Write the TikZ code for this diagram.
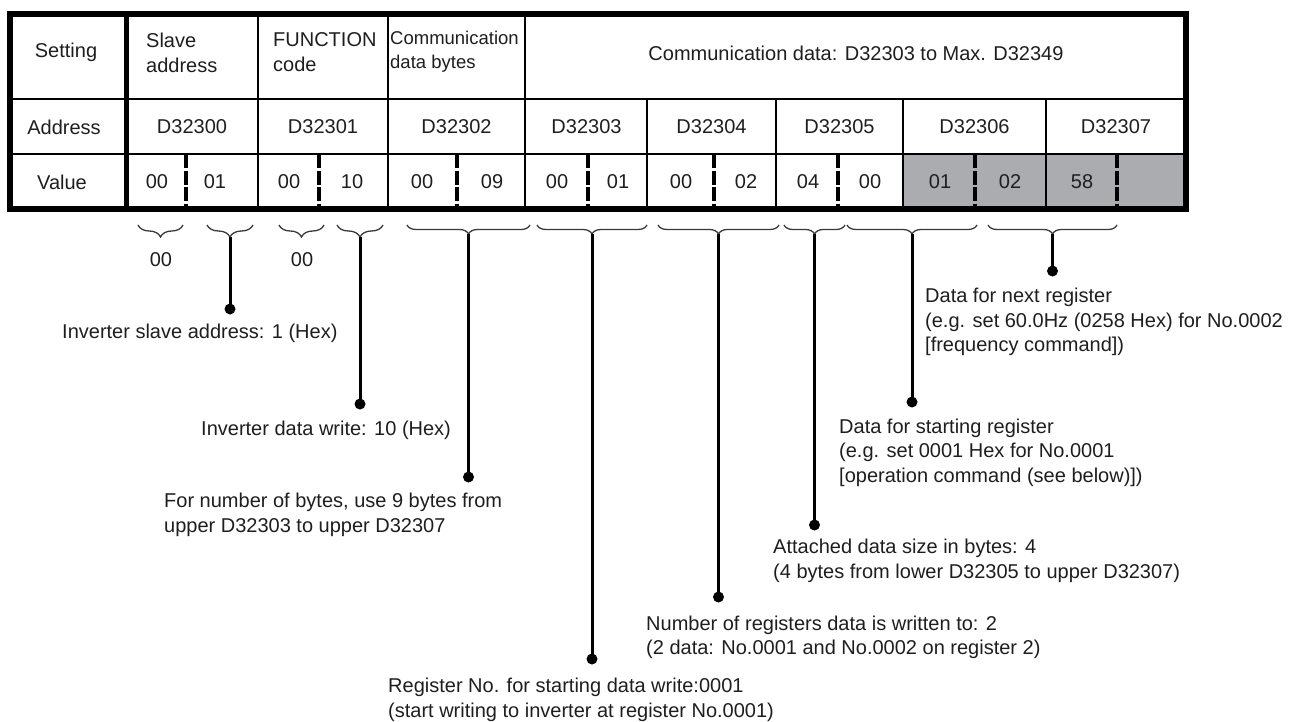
\documentclass[tikz,border=0pt]{standalone}
\usepackage{fontspec}
\setmainfont{Liberation Sans}
\usetikzlibrary{decorations.pathreplacing}
\definecolor{cellgrey}{HTML}{ABACB0}
\definecolor{inkc}{HTML}{1E1E1E}
\definecolor{bracec}{HTML}{3A3A3A}
\begin{document}
\begin{tikzpicture}[x=1pt,y=-1pt,
  txt/.style={inner sep=0pt, text=inkc, font=\fontsize{20}{25}\selectfont},
  hdr/.style={txt, align=left, anchor=west},
  lbl/.style={inner sep=0pt, text=inkc, align=left, anchor=west, font=\fontsize{20}{24.5}\selectfont},
  gridthin/.style={line width=1.6pt, draw=black},
  gridthick/.style={line width=5pt, draw=black},
  halfdiv/.style={line width=4pt, draw=black, dash pattern=on 14pt off 2.5pt},
  frame/.style={line width=6pt, draw=black},
  brc/.style={decorate, decoration={brace, mirror, amplitude=#1}, line width=1.3pt, draw=bracec},
  lead/.style={line width=3pt, draw=black},
  dot/.style={circle, fill=black, inner sep=0pt, minimum size=11pt},
]
\useasboundingbox (0,0) rectangle (1306,721);

% ---- table ----
\fill[cellgrey] (903,154) rectangle (1186,209);
\draw[gridthin] (9.5,99) -- (1186,99);
\draw[gridthin] (9.5,154) -- (1186,154);
\foreach \x in {258,388,525} \draw[gridthin] (\x,13.5) -- (\x,209);
\foreach \x in {647,776,903,1046} \draw[gridthin] (\x,99) -- (\x,209);
\draw[gridthick] (126,13.5) -- (126,209);
\foreach \x in {186,319,457,588,714,838,975,1117} \draw[halfdiv] (\x,154) -- (\x,209);
\draw[frame] (9.5,13.5) rectangle (1186,209);

% row 1
\node[txt] (hset) at (66,52) {Setting};
\node[hdr] (hslave) at (146,52.5) {Slave\\address};
\node[hdr] (hfunc) at (273,52.5) {FUNCTION\\code};
\node[hdr, font=\fontsize{18.5}{24}\selectfont] (hcomm) at (390,52) {Communication\\data bytes};
\node[txt] (hdata) at (856,53) {Communication data: D32303 to Max. D32349};

% row 2
\node[txt] (raddr) at (64,127) {Address};
\node[txt] (a0) at (192,127) {D32300};
\node[txt] (a1) at (323,127) {D32301};
\node[txt] (a2) at (456.5,127) {D32302};
\node[txt] (a3) at (586.5,127) {D32303};
\node[txt] (a4) at (711.5,127) {D32304};
\node[txt] (a5) at (839.5,127) {D32305};
\node[txt] (a6) at (974.5,127) {D32306};
\node[txt] (a7) at (1116,127) {D32307};

% row 3
\node[txt] (rval) at (62,182) {Value};
\node[txt] (v0h) at (157,182) {00};
\node[txt] (v0l) at (215,182) {01};
\node[txt] (v1h) at (289,182) {00};
\node[txt] (v1l) at (352,182) {10};
\node[txt] (v2h) at (422,182) {00};
\node[txt] (v2l) at (492,182) {09};
\node[txt] (v3h) at (557,182) {00};
\node[txt] (v3l) at (618,182) {01};
\node[txt] (v4h) at (681,182) {00};
\node[txt] (v4l) at (746,182) {02};
\node[txt] (v5h) at (808,182) {04};
\node[txt] (v5l) at (870,182) {00};
\node[txt] (v6h) at (940,182) {01};
\node[txt] (v6l) at (1010,182) {02};
\node[txt] (v7h) at (1082,182) {58};

% ---- braces ----
\draw[brc=12pt] (138,225) -- (183,225);
\draw[brc=12pt] (207,225) -- (253,225);
\draw[brc=12pt] (279,225) -- (324,225);
\draw[brc=12pt] (337,225) -- (383,225);
\draw[brc=9pt] (407,225) -- (530,225);
\draw[brc=9pt] (537,225) -- (647,225);
\draw[brc=9pt] (658,225) -- (779,225);
\draw[brc=9pt] (784,225) -- (845,225);
\draw[brc=9pt] (847,225) -- (977,225);
\draw[brc=9pt] (988,225) -- (1117,225);

\node[txt] (z1) at (161,260) {00};
\node[txt] (z2) at (302,260) {00};

% brace tips
\coordinate (t2) at (230,237);
\coordinate (t4) at (360,237);
\coordinate (t5) at (468.5,234);
\coordinate (t6) at (592,234);
\coordinate (t7) at (718.5,234);
\coordinate (t8) at (814.5,234);
\coordinate (t9) at (912,234);
\coordinate (t10) at (1052.5,234);

% dots
\node[dot] (d2) at (230,309) {};
\node[dot] (d4) at (360,404) {};
\node[dot] (d5) at (468.5,477) {};
\node[dot] (d6) at (592,659) {};
\node[dot] (d7) at (718.5,597) {};
\node[dot] (d8) at (814.5,525) {};
\node[dot] (d9) at (912,402) {};
\node[dot] (d10) at (1052.5,271) {};

\draw[lead] (t2) -- (d2.center);
\draw[lead] (t4) -- (d4.center);
\draw[lead] (t5) -- (d5.center);
\draw[lead] (t6) -- (d6.center);
\draw[lead] (t7) -- (d7.center);
\draw[lead] (t8) -- (d8.center);
\draw[lead] (t9) -- (d9.center);
\draw[lead] (t10) -- (d10.center);

% ---- labels ----
\node[lbl] (l2) at (62,333) {Inverter slave address: 1 (Hex)};
\node[lbl] (l4) at (201,430) {Inverter data write: 10 (Hex)};
\node[lbl] (l5) at (164,515) {For number of bytes, use 9 bytes from\\upper D32303 to upper D32307};
\node[lbl] (l6) at (388,700) {Register No. for starting data write:0001\\(start writing to inverter at register No.0001)};
\node[lbl] (l7) at (646,637.5) {Number of registers data is written to: 2\\(2 data: No.0001 and No.0002 on register 2)};
\node[lbl] (l8) at (773,561) {Attached data size in bytes: 4\\(4 bytes from lower D32305 to upper D32307)};
\node[lbl] (l9) at (839,452.5) {Data for starting register\\(e.g. set 0001 Hex for No.0001\\{[}operation command (see below)])};
\node[lbl] (l10) at (925,322) {Data for next register\\(e.g. set 60.0Hz (0258 Hex) for No.0002\\{[}frequency command])};
\end{tikzpicture}
\end{document}
